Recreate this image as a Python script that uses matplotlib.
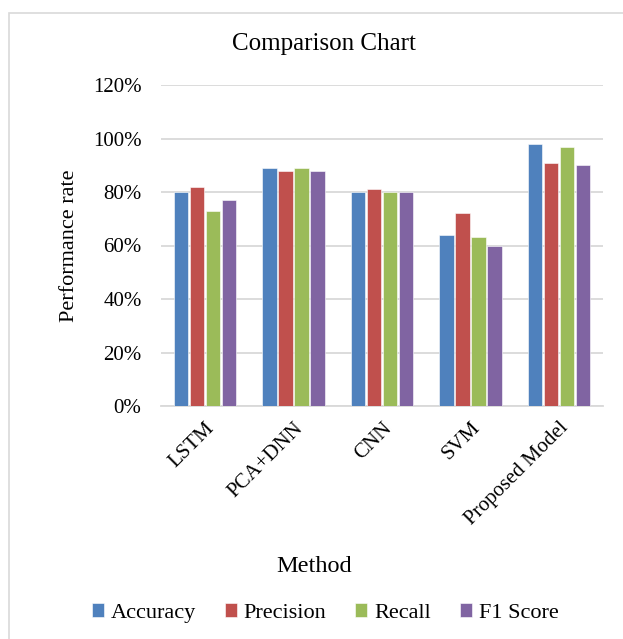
import numpy as np
import matplotlib.pyplot as plt
from matplotlib.patches import Rectangle
from matplotlib.ticker import PercentFormatter

plt.rcParams['font.family'] = ['Liberation Serif', 'DejaVu Serif']

methods = ['LSTM', 'PCA+DNN', 'CNN', 'SVM', 'Proposed Model']
accuracy = [80, 89, 80, 64, 98]
precision = [82, 88, 81, 72, 91]
recall = [73, 89, 80, 63, 97]
f1_score = [77, 88, 80, 60, 90]

series = [('Accuracy', accuracy, '#4F81BD'),
          ('Precision', precision, '#C0504D'),
          ('Recall', recall, '#9BBB59'),
          ('F1 Score', f1_score, '#8064A2')]

fig = plt.figure(figsize=(6.23, 6.39), dpi=100)
ax = fig.add_axes([161 / 623, 1 - 406 / 639, 442 / 623, 321 / 639])

# thin frame round the chart area (left and top edges show)
fig.add_artist(Rectangle((9 / 623, -0.05), 1.1, 1 - 13 / 639 + 0.05,
                         transform=fig.transFigure, fill=False,
                         edgecolor='#D9D9D9', lw=1.2))

x = np.arange(len(methods))
step = 0.181
for i, (name, vals, col) in enumerate(series):
    ax.bar(x + (i - 1.5) * step, vals, width=0.165, color=col,
           edgecolor='white', linewidth=0.4, label=name, zorder=3)

ax.set_xlim(-0.5, len(methods) - 0.5)
ax.set_ylim(0, 120)
ax.set_yticks(np.arange(0, 121, 20))
ax.yaxis.set_major_formatter(PercentFormatter(decimals=0))
ax.grid(axis='y', color='#D9D9D9', lw=1.3, zorder=0)
for s in ['top', 'right', 'left']:
    ax.spines[s].set_visible(False)
ax.spines['bottom'].set_color('#D9D9D9')
ax.spines['bottom'].set_linewidth(1.3)
ax.tick_params(axis='y', length=0, labelsize=15, pad=14)
ax.set_xticks(x)
ax.set_xticklabels(methods, rotation=45, ha='right', rotation_mode='anchor')
ax.tick_params(axis='x', length=0, labelsize=15, pad=9)

ax.set_ylabel('Performance rate', fontsize=16, labelpad=10)
fig.text(314 / 623, 1 - 566 / 639, 'Method', fontsize=17.5,
         ha='center', va='center')
fig.text(324 / 623, 1 - 44 / 639, 'Comparison Chart', fontsize=18,
         ha='center', va='center')

fig.legend(loc='center', bbox_to_anchor=(325 / 623, 1 - 613 / 639),
           ncol=4, frameon=False, fontsize=16, handlelength=0.55,
           handleheight=0.55, handletextpad=0.3, columnspacing=1.3)

fig.savefig('out.png', dpi=100)
